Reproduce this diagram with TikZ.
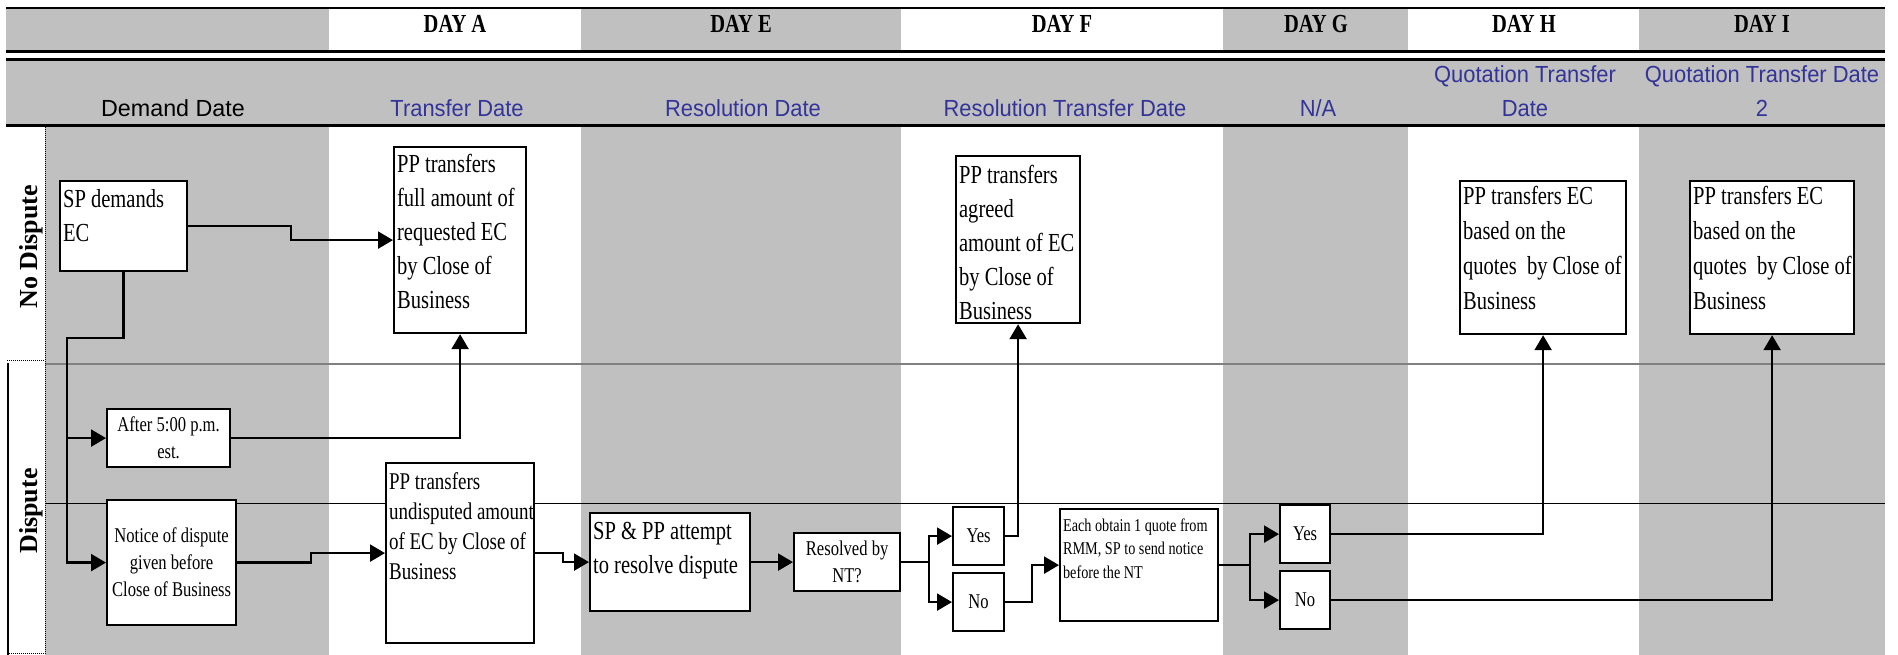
\documentclass[tikz,border=0pt]{standalone}
\usepackage{fontspec}
\setmainfont{Liberation Serif}
\newfontfamily\nf[FakeStretch=0.79]{Liberation Serif}
\newfontfamily\lanef{Liberation Serif}
\newfontfamily\hf{Liberation Sans}
\newfontfamily\hfn[FakeStretch=0.94]{Liberation Sans}
\usetikzlibrary{arrows.meta}
\definecolor{cgray}{RGB}{192,192,192}
\definecolor{hblue}{RGB}{51,51,153}
\definecolor{lgray}{RGB}{128,128,128}
\newcommand\tbt[6]{\parbox[c][#2pt][t]{#1pt}{\nf\fontsize{#3}{#4}\selectfont\raggedright\leftskip=3pt\rule{0pt}{#5pt}#6}}
\tikzset{
 bx/.style={draw, line width=2.2pt, fill=white, inner sep=0pt, anchor=north west},
 cbx/.style={draw, line width=2.2pt, fill=white, inner sep=0pt, anchor=north west, align=center, font={\nf\fontsize{21}{27}\selectfont}},
 arr/.style={line width=2.3pt, -{Triangle[length=15pt,width=17pt]}},
 ln/.style={line width=2.3pt},
 dayh/.style={anchor=base, font={\nf\bfseries\fontsize{26}{30}\selectfont}},
 hdr/.style={anchor=base, text=hblue, font={\hfn\fontsize{23.3}{34}\selectfont}},
 lane/.style={rotate=90, font={\lanef\bfseries\fontsize{26}{30}\selectfont}},
}
\begin{document}
\begin{tikzpicture}[x=1pt,y=-1pt]
\useasboundingbox (0,0) rectangle (1898,655);
% backgrounds
\fill[white] (0,0) rectangle (1898,655);
\foreach \a/\b in {6/329,581/901,1223/1408,1639/1885}{\fill[cgray] (\a,8) rectangle (\b,50);}
\fill[cgray] (6,60) rectangle (1885,125);
\foreach \a/\b in {45/329,581/901,1223/1408,1639/1885}{\fill[cgray] (\a,125) rectangle (\b,655);}
% rules
\draw[line width=2pt] (6,8) -- (1885,8);
\draw[line width=3pt] (6,51.5) -- (1885,51.5);
\draw[line width=3pt] (6,59.5) -- (1885,59.5);
\draw[line width=2.5pt] (6,125.5) -- (1885,125.5);
\draw[lgray, line width=1.8pt] (45,364) -- (1885,364);
\draw[line width=1pt] (45,503) -- (1885,503);
\draw[densely dotted, line width=1pt] (45,127) -- (45,655);
\draw[densely dotted, line width=1pt] (7,360) -- (45,360);
\draw[densely dotted, line width=1pt] (7,653) -- (45,653);
\draw[line width=2.5pt] (8,363) -- (8,655);
% headers
\node[dayh] (dA) at (455,33) {DAY A};
\node[dayh] (dE) at (741,33) {DAY E};
\node[dayh] (dF) at (1062,33) {DAY F};
\node[dayh] (dG) at (1316,33) {DAY G};
\node[dayh] (dH) at (1524,33) {DAY H};
\node[dayh] (dI) at (1762,33) {DAY I};
\node[anchor=base, font={\hf\fontsize{23.3}{34}\selectfont}] (hDem) at (173,117) {Demand Date};
\node[hdr] (hA) at (457,117) {Transfer Date};
\node[hdr] (hE) at (743,117) {Resolution Date};
\node[hdr] (hF) at (1065,117) {Resolution Transfer Date};
\node[hdr] (hG) at (1318,117) {N/A};
\node[hdr] (hH) at (1525,117) {\parbox[b]{240pt}{\centering Quotation Transfer\\Date}};
\node[hdr] (hI) at (1762,117) {\parbox[b]{244pt}{\centering Quotation Transfer Date\\2}};
% lane labels
\node[lane] (lnd) at (31,247) {No Dispute};
\node[lane] (ld) at (31,511) {Dispute};
% boxes
\node[bx] (sp) at (59,180) {\tbt{127}{90}{26}{34}{26}{SP demands\\EC}};
\node[bx] (full) at (393,146) {\tbt{132}{186}{26}{34}{25}{PP transfers\\full amount of\\requested EC\\by Close of\\Business}};
\node[cbx, minimum width=123pt, minimum height=58pt] (after) at (106,408) {After 5:00 p.m.\\est.};
\node[cbx, minimum width=129pt, minimum height=125pt] (notice) at (106,499) {Notice of dispute\\given before\\Close of Business};
\node[bx] (undisp) at (385,462) {\tbt{148}{180}{24}{30}{26}{PP transfers\\undisputed~amount\\of~EC~by~Close~of\\Business}};
\node[bx] (sppp) at (589,512) {\tbt{160}{98}{26}{34}{26}{SP \& PP attempt\\to~resolve~dispute}};
\node[cbx, minimum width=106pt, minimum height=58pt, font={\nf\fontsize{21}{26.5}\selectfont}] (resolved) at (793,532) {Resolved by\\NT?};
\node[cbx, minimum width=51pt, minimum height=58pt] (yesF) at (952,506) {Yes};
\node[cbx, minimum width=51pt, minimum height=58pt] (noF) at (952,572) {No};
\node[bx] (each) at (1059,508) {\tbt{158}{112}{18}{23.5}{22}{Each~obtain~1~quote~from\\RMM,~SP~to~send~notice\\before the NT}};
\node[cbx, minimum width=50pt, minimum height=58pt] (yesG) at (1279,504) {Yes};
\node[cbx, minimum width=50pt, minimum height=58pt] (noG) at (1279,570) {No};
\node[bx] (agreed) at (955,155) {\tbt{124}{167}{26}{34}{27}{PP transfers\\agreed\\amount~of~EC\\by Close of\\Business}};
\node[bx] (hbox) at (1459,180) {\tbt{166}{153}{26}{35}{23}{PP transfers EC\\based on the\\quotes~~by~Close~of\\Business}};
\node[bx] (ibox) at (1689,180) {\tbt{164}{153}{26}{35}{23}{PP transfers EC\\based on the\\quotes~~by~Close~of\\Business}};
% connectors
\coordinate (trunk) at (67,338);
\draw[arr] (sp.east) -- ++(103,0) |- (full.west);
\draw[arr] (sp.south) |- (trunk) |- (notice.west);
\draw[arr] (trunk |- after.west) -- (after.west);
\draw[arr] (after.east) -| (full.south);
\draw[arr] (notice.east) -- ++(74,0) |- (undisp.west);
\draw[arr] (undisp.east) -- ++(28,0) |- (sppp.west);
\draw[arr] (sppp.east) -- (resolved.west);
\draw[arr] (resolved.east) -- ++(28,0) |- (yesF.west);
\draw[arr] (resolved.east) -- ++(28,0) |- (noF.west);
\draw[arr] (yesF.east) -| (agreed.south);
\draw[arr] (noF.east) -- ++(27,0) |- (each.west);
\draw[arr] (each.east) -- ++(31,0) |- (yesG.west);
\draw[arr] (each.east) -- ++(31,0) |- (noG.west);
\draw[arr] (yesG.east) -| (hbox.south);
\draw[arr] (noG.east) -| (ibox.south);
\end{tikzpicture}
\end{document}
